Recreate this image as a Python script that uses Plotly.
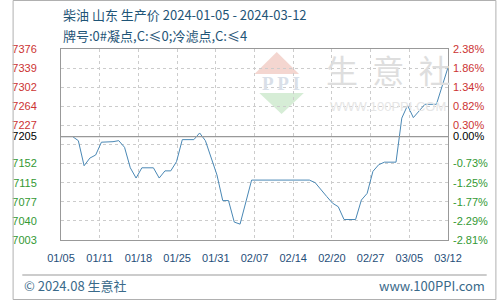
import plotly.graph_objects as go
import pandas as pd

# ---- data ----
dates = ["2024-01-05", "2024-01-07", "2024-01-08", "2024-01-09", "2024-01-10", "2024-01-11",
         "2024-01-12", "2024-01-14", "2024-01-15", "2024-01-16", "2024-01-17", "2024-01-18",
         "2024-01-19", "2024-01-21", "2024-01-22", "2024-01-23", "2024-01-24", "2024-01-25",
         "2024-01-26", "2024-01-28", "2024-01-29", "2024-01-30", "2024-02-01", "2024-02-02",
         "2024-02-03", "2024-02-04", "2024-02-05", "2024-02-07", "2024-02-17", "2024-02-18",
         "2024-02-20", "2024-02-21", "2024-02-22", "2024-02-23", "2024-02-25", "2024-02-26",
         "2024-02-27", "2024-02-28", "2024-02-29", "2024-03-01", "2024-03-03", "2024-03-04",
         "2024-03-05", "2024-03-06", "2024-03-08", "2024-03-10", "2024-03-12"]
prices = [7205, 7205, 7197, 7148, 7163, 7169,
          7194, 7195, 7197, 7184, 7144, 7124,
          7144, 7144, 7124, 7138, 7138, 7156,
          7199, 7199, 7212, 7197, 7130, 7080,
          7080, 7038, 7034, 7120, 7120, 7115,
          7088, 7075, 7068, 7043, 7043, 7081,
          7094, 7137, 7150, 7155, 7155, 7241,
          7266, 7242, 7268, 7268, 7340]

base_price = 7205
y_min, y_max = 7003, 7376
left_tick_vals = [7003, 7040.3, 7077.6, 7114.9, 7152.2, 7189.5, 7205, 7226.8, 7264.1, 7301.4, 7338.7, 7376]
left_tick_text = ["7003", "7040", "7077", "7115", "7152", "", "7205", "7227", "7264", "7302", "7339", "7376"]
right_tick_text = ["-2.81%", "-2.29%", "-1.77%", "-1.25%", "-0.73%", "", "0.00%", "0.30%", "0.82%", "1.34%", "1.86%", "2.38%"]
x_tick_text = ["01/05", "01/11", "01/18", "01/25", "01/31", "02/07", "02/14", "02/20", "02/27", "03/05", "03/12"]

title1 = "柴油 山东 生产价 2024-01-05 - 2024-03-12"
title2 = "牌号:0#凝点,C:≤0;冷滤点,C:≤4"
footer_left = "© 2024.08 生意社"
footer_right = "www.100PPI.com"
wm_big = "生  意  社"
wm_small = "WWW.100PPI.COM"

RED, GREEN, BLACK = "#cc3333", "#339933", "#000000"


def colored(vals, texts):
    out = []
    for v, t in zip(vals, texts):
        c = BLACK if abs(v - base_price) < 1 else (RED if v > base_price else GREEN)
        out.append(f'<span style="color:{c}">{t}</span>' if t else "")
    return out


x_start, x_end = pd.Timestamp(dates[0]), pd.Timestamp(dates[-1])
x_tick_vals = list(pd.date_range(x_start, x_end, periods=len(x_tick_text)))

fig = go.Figure()
fig.add_trace(go.Scatter(x=dates, y=prices, mode="lines",
                         line=dict(color="#4a88b5", width=1), hoverinfo="skip"))
fig.add_trace(go.Scatter(x=dates, y=prices, mode="lines", yaxis="y2",
                         line=dict(color="rgba(0,0,0,0)", width=0), hoverinfo="skip"))

axis_font = dict(family="Liberation Sans, Arial", size=11)
fig.update_layout(
    width=500, height=300,
    margin=dict(l=50, r=50, t=49, b=60),
    paper_bgcolor="white", plot_bgcolor="white",
    showlegend=False,
    xaxis=dict(type="date", range=[x_start, x_end], tickmode="array",
               tickvals=x_tick_vals, ticktext=x_tick_text,
               showgrid=True, gridcolor="#cccccc", griddash="dot", gridwidth=1,
               showline=True, linecolor="#999999", mirror=True, ticks="",
               tickfont=dict(axis_font, color="#1f4e79"), ticklabelstandoff=8, zeroline=False),
    yaxis=dict(range=[y_min, y_max], tickmode="array", tickvals=left_tick_vals,
               ticktext=colored(left_tick_vals, left_tick_text),
               showgrid=True, gridcolor="#cccccc", griddash="dot", gridwidth=1,
               showline=True, linecolor="#999999", mirror=True, ticks="",
               tickfont=axis_font, ticklabelstandoff=21, zeroline=False),
    yaxis2=dict(range=[y_min, y_max], overlaying="y", side="right", tickmode="array",
                tickvals=left_tick_vals, ticktext=colored(left_tick_vals, right_tick_text),
                showgrid=False, showline=False, ticks="", tickfont=axis_font,
                ticklabelstandoff=4, zeroline=False),
)

# baseline at the start price
fig.add_shape(type="line", xref="paper", yref="y", x0=0, x1=1, y0=base_price, y1=base_price,
              line=dict(color="#999999", width=1.2), layer="above")


# paper coords helpers: px = 50 + p*400 ; py = 240 - p*191
def px(x):
    return (x - 50) / 400


def py(y):
    return (240 - y) / 191


fig.add_shape(type="line", xref="paper", yref="paper", x0=px(10), x1=px(490), y0=py(275), y1=py(275),
              line=dict(color="#999999", width=1))
fig.add_shape(type="rect", xref="paper", yref="paper", x0=px(0.5), x1=px(499.5), y0=py(299.5), y1=py(0.5),
              line=dict(color="#b0b0b0", width=1))

# watermark logo
fig.add_shape(type="path", xref="paper", yref="paper", layer="below",
              path=f"M {px(273)} {py(52)} L {px(296)} {py(74)} L {px(250)} {py(74)} Z",
              fillcolor="#f4d6d0", line=dict(width=0))
fig.add_shape(type="path", xref="paper", yref="paper", layer="below",
              path=f"M {px(255)} {py(93)} L {px(301)} {py(93)} L {px(278)} {py(114)} Z",
              fillcolor="#d6edd6", line=dict(width=0))
wm = dict(xref="paper", yref="paper", showarrow=False, xanchor="center", yanchor="middle")
fig.add_annotation(x=px(277), y=py(83), text="<b>P P I</b>",
                   font=dict(family="Liberation Serif", size=19, color="#d9dfe8"), **wm)
fig.add_annotation(x=px(388), y=py(69), text=wm_big,
                   font=dict(family="Noto Sans CJK SC", size=32, color="#dedede"), **wm)
fig.add_annotation(x=px(388), y=py(106), text=wm_small,
                   font=dict(family="Liberation Sans", size=13, color="#e6e6e6"), **wm)

# titles
title_font = dict(family="Noto Sans CJK SC", size=13, color="#1f5577")
fig.add_annotation(x=px(50), y=py(15), xref="paper", yref="paper", text=title1, showarrow=False,
                   xanchor="left", yanchor="middle", font=title_font)
fig.add_annotation(x=px(50), y=py(35), xref="paper", yref="paper", text=title2, showarrow=False,
                   xanchor="left", yanchor="middle", font=title_font)

# footer
foot_font = dict(family="Noto Sans CJK SC", size=13, color="#3a6a8a")
fig.add_annotation(x=px(10), y=py(285), xref="paper", yref="paper", text=footer_left, showarrow=False,
                   xanchor="left", yanchor="middle", font=foot_font)
fig.add_annotation(x=px(490), y=py(285), xref="paper", yref="paper", text=footer_right, showarrow=False,
                   xanchor="right", yanchor="middle", font=foot_font)

fig.write_html("out.html")
